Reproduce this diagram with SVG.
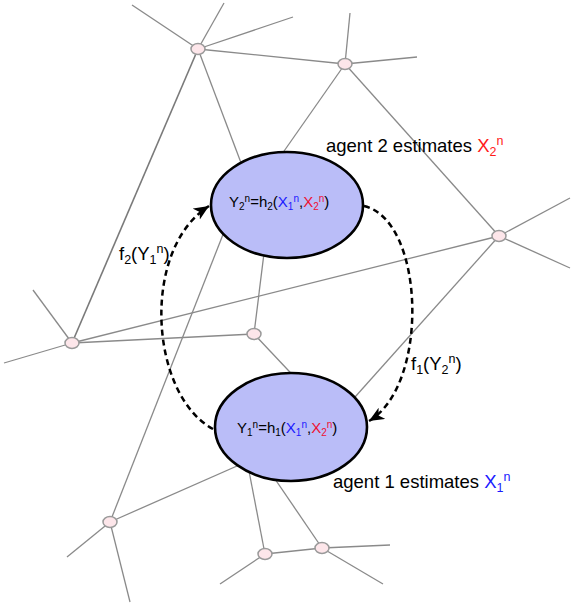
<svg xmlns="http://www.w3.org/2000/svg" width="571" height="606" viewBox="0 0 571 606">
<style>
.ln{stroke:#8a8a8a;stroke-width:1.3;fill:none}
.nd{fill:#fde6ea;stroke:#9a9a9a;stroke-width:1.5}
.ag{fill:#babdf8;stroke:#000;stroke-width:2.6}
.dash{fill:none;stroke:#000;stroke-width:2.5;stroke-dasharray:6 4}
text{font-family:"Liberation Sans",Arial,sans-serif;fill:#000}
.f{font-size:15px}
.lb{font-size:18.5px}
.b{fill:#1a1aff}
.r{fill:#ee1133}
</style>
<defs>
<marker id="ah" markerUnits="userSpaceOnUse" markerWidth="18" markerHeight="14" refX="15" refY="6.5" orient="auto">
<path d="M0,0 L15,6.5 L0,13 L4,6.5 z" fill="#000"/>
</marker>
</defs>
<g id="connectors">
<line class="ln" x1="198" y1="49" x2="132" y2="5"/>
<line class="ln" x1="198" y1="49" x2="224" y2="3"/>
<line class="ln" x1="198" y1="49" x2="293" y2="17"/>
<line class="ln" x1="198" y1="49" x2="345" y2="64"/>
<line class="ln" x1="198" y1="49" x2="72" y2="343" style="stroke:#7a7a7a;stroke-width:1.6"/>
<line class="ln" x1="198" y1="49" x2="246" y2="176"/>
<line class="ln" x1="345" y1="64" x2="350" y2="13"/>
<line class="ln" x1="345" y1="64" x2="417" y2="57"/>
<line class="ln" x1="345" y1="64" x2="499" y2="236"/>
<line class="ln" x1="345" y1="64" x2="275" y2="164"/>
<line class="ln" x1="499" y1="236" x2="570" y2="198"/>
<line class="ln" x1="499" y1="236" x2="570" y2="268"/>
<line class="ln" x1="499" y1="236" x2="72" y2="343"/>
<line class="ln" x1="499" y1="236" x2="330" y2="425"/>
<line class="ln" x1="72" y1="343" x2="4" y2="363"/>
<line class="ln" x1="72" y1="343" x2="33" y2="290"/>
<line class="ln" x1="72" y1="343" x2="254" y2="334"/>
<line class="ln" x1="254" y1="334" x2="275" y2="164"/>
<line class="ln" x1="254" y1="334" x2="320" y2="404"/>
<line class="ln" x1="110" y1="522" x2="246" y2="176"/>
<line class="ln" x1="110" y1="522" x2="280" y2="447"/>
<line class="ln" x1="110" y1="522" x2="67" y2="557"/>
<line class="ln" x1="110" y1="522" x2="130" y2="602"/>
<line class="ln" x1="265" y1="554" x2="243" y2="440"/>
<line class="ln" x1="265" y1="554" x2="322" y2="548"/>
<line class="ln" x1="265" y1="554" x2="220" y2="584"/>
<line class="ln" x1="322" y1="548" x2="260" y2="457"/>
<line class="ln" x1="322" y1="548" x2="390" y2="545"/>
<line class="ln" x1="322" y1="548" x2="383" y2="584"/>
</g>
<g id="node-a"><ellipse class="nd" cx="198" cy="49" rx="7" ry="5.5"/></g>
<g id="node-b"><ellipse class="nd" cx="345" cy="64" rx="7" ry="5.5"/></g>
<g id="node-c"><ellipse class="nd" cx="499" cy="236" rx="7" ry="5.5"/></g>
<g id="node-d"><ellipse class="nd" cx="72" cy="343" rx="7" ry="5.5"/></g>
<g id="node-e"><ellipse class="nd" cx="254" cy="334" rx="7" ry="5.5"/></g>
<g id="node-f"><ellipse class="nd" cx="110" cy="522" rx="7" ry="5.5"/></g>
<g id="node-g"><ellipse class="nd" cx="265" cy="554" rx="7" ry="5.5"/></g>
<g id="node-h"><ellipse class="nd" cx="322" cy="548" rx="7" ry="5.5"/></g>
<g id="agent2">
<ellipse class="ag" cx="287" cy="205" rx="76" ry="53"/>
<text class="f" x="229" y="207">Y<tspan font-size="10" dy="3">2</tspan><tspan font-size="10" dy="-8">n</tspan><tspan dy="5">=h</tspan><tspan font-size="10" dy="3">2</tspan><tspan dy="-3">(</tspan><tspan class="b">X</tspan><tspan class="b" font-size="10" dy="3">1</tspan><tspan class="b" font-size="10" dy="-8">n</tspan><tspan dy="5">,</tspan><tspan class="r">X</tspan><tspan class="r" font-size="10" dy="3">2</tspan><tspan class="r" font-size="10" dy="-8">n</tspan><tspan dy="5">)</tspan></text>
</g>
<g id="agent1">
<ellipse class="ag" cx="291" cy="427" rx="76" ry="54"/>
<text class="f" x="237" y="433">Y<tspan font-size="10" dy="3">1</tspan><tspan font-size="10" dy="-8">n</tspan><tspan dy="5">=h</tspan><tspan font-size="10" dy="3">1</tspan><tspan dy="-3">(</tspan><tspan class="b">X</tspan><tspan class="b" font-size="10" dy="3">1</tspan><tspan class="b" font-size="10" dy="-8">n</tspan><tspan dy="5">,</tspan><tspan class="r">X</tspan><tspan class="r" font-size="10" dy="3">2</tspan><tspan class="r" font-size="10" dy="-8">n</tspan><tspan dy="5">)</tspan></text>
</g>
<g id="messages">
<path class="dash" d="M213,429 C150,395 140,250 209,206" marker-end="url(#ah)"/>
<path class="dash" d="M364,206 C425,220 430,385 369,421" marker-end="url(#ah)"/>
</g>
<g id="labels">
<text class="lb" x="326" y="152">agent 2 estimates <tspan fill="#ff1a1a">X</tspan><tspan fill="#ff1a1a" font-size="12.5" dy="4">2</tspan><tspan fill="#ff1a1a" font-size="12.5" dy="-11">n</tspan></text>
<text class="lb" x="333" y="488">agent 1 estimates <tspan class="b">X</tspan><tspan class="b" font-size="12.5" dy="4">1</tspan><tspan class="b" font-size="12.5" dy="-11">n</tspan></text>
<text class="lb" x="119" y="260">f<tspan font-size="12.5" dy="4">2</tspan><tspan dy="-4">(Y</tspan><tspan font-size="12.5" dy="4">1</tspan><tspan font-size="12.5" dy="-11">n</tspan><tspan dy="7">)</tspan></text>
<text class="lb" x="411" y="370">f<tspan font-size="12.5" dy="4">1</tspan><tspan dy="-4">(Y</tspan><tspan font-size="12.5" dy="4">2</tspan><tspan font-size="12.5" dy="-11">n</tspan><tspan dy="7">)</tspan></text>
</g>
</svg>
